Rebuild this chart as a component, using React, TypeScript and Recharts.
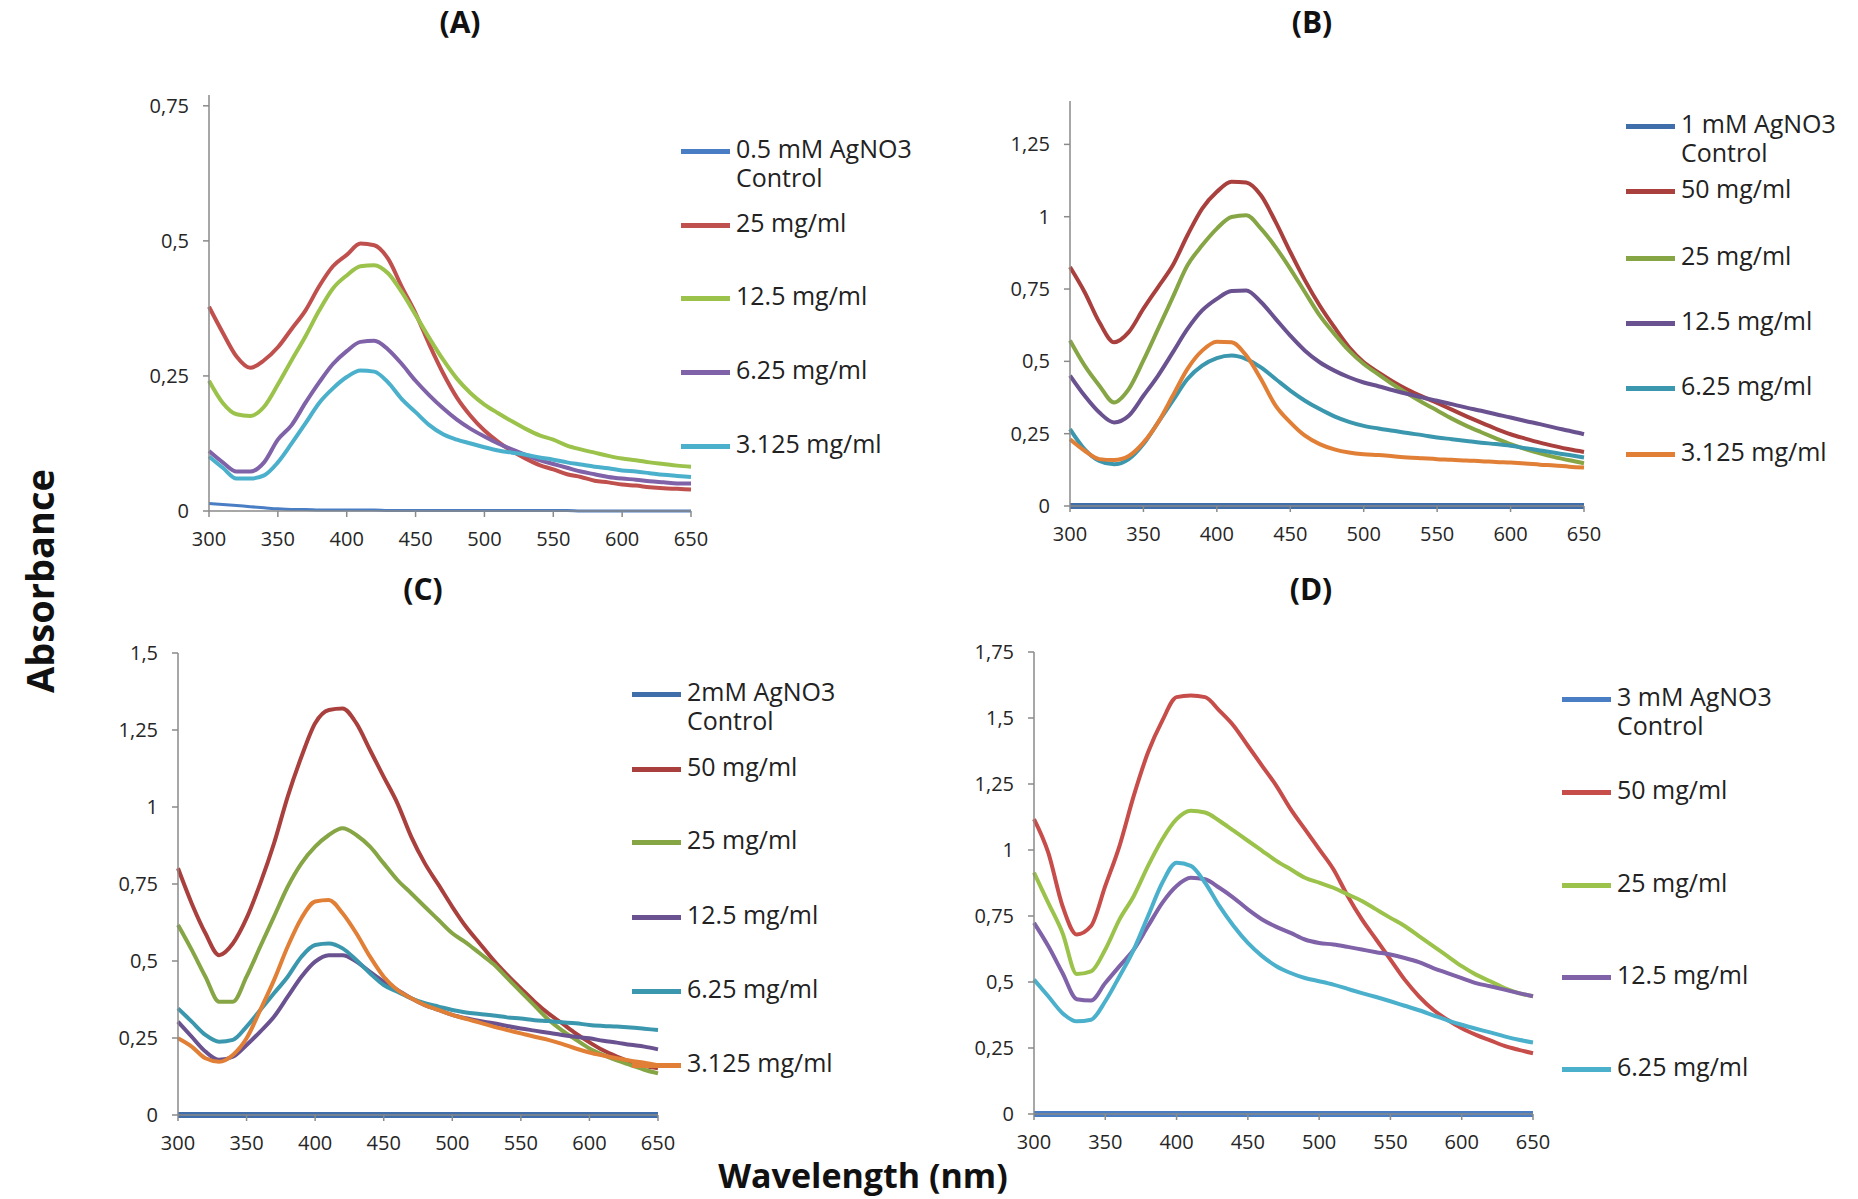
import React from "react";
import { LineChart, Line, XAxis, YAxis } from "recharts";

// wavelength grid (nm), shared by all four panels
const wavelengths = [
    300, 310, 320, 330, 340, 350, 360, 370, 380, 390, 400, 410, 420, 430, 440, 450, 460, 470,
    480, 490, 500, 510, 520, 530, 540, 550, 560, 570, 580, 590, 600, 610, 620, 630, 640, 650,
];
const xTicks = [300, 350, 400, 450, 500, 550, 600, 650];

// (A) 0.5 mM AgNO3
const ctrlA = [0.014, 0.012, 0.01, 0.008, 0.006, 0.004, 0.003, 0.003, 0.002, 0.002, 0.002, 0.002, 0.002, 0.001, 0.001, 0.001, 0.001, 0.001, 0.001, 0.001, 0.001, 0.001, 0.001, 0.001, 0.001, 0.001, 0.001, 0, 0, 0, 0, 0, 0, 0, 0, 0];
const a25 = [0.378, 0.33, 0.286, 0.265, 0.279, 0.303, 0.337, 0.371, 0.416, 0.453, 0.474, 0.495, 0.492, 0.467, 0.415, 0.366, 0.308, 0.255, 0.21, 0.176, 0.149, 0.128, 0.111, 0.097, 0.085, 0.077, 0.068, 0.063, 0.056, 0.053, 0.049, 0.047, 0.044, 0.042, 0.041, 0.04];
const a125 = [0.241, 0.2, 0.179, 0.176, 0.193, 0.234, 0.279, 0.323, 0.371, 0.412, 0.436, 0.453, 0.455, 0.44, 0.405, 0.363, 0.32, 0.28, 0.245, 0.218, 0.197, 0.181, 0.166, 0.152, 0.14, 0.132, 0.121, 0.114, 0.108, 0.102, 0.097, 0.094, 0.09, 0.087, 0.084, 0.082];
const a625 = [0.111, 0.09, 0.073, 0.073, 0.09, 0.132, 0.159, 0.2, 0.238, 0.272, 0.296, 0.313, 0.315, 0.299, 0.272, 0.241, 0.214, 0.19, 0.169, 0.152, 0.138, 0.125, 0.114, 0.104, 0.094, 0.087, 0.08, 0.073, 0.068, 0.063, 0.06, 0.058, 0.055, 0.053, 0.051, 0.051];
const a3125 = [0.101, 0.08, 0.06, 0.06, 0.066, 0.09, 0.125, 0.162, 0.2, 0.227, 0.248, 0.26, 0.258, 0.238, 0.207, 0.183, 0.159, 0.142, 0.132, 0.125, 0.118, 0.112, 0.108, 0.104, 0.099, 0.095, 0.09, 0.086, 0.082, 0.079, 0.075, 0.073, 0.07, 0.067, 0.065, 0.063];

// (B) 1 mM AgNO3
const ctrlB = [0, 0, 0, 0, 0, 0, 0, 0, 0, 0, 0, 0, 0, 0, 0, 0, 0, 0, 0, 0, 0, 0, 0, 0, 0, 0, 0, 0, 0, 0, 0, 0, 0, 0, 0, 0];
const b50 = [0.826, 0.739, 0.635, 0.566, 0.601, 0.682, 0.757, 0.832, 0.936, 1.028, 1.086, 1.121, 1.118, 1.074, 0.982, 0.878, 0.78, 0.693, 0.618, 0.549, 0.497, 0.462, 0.43, 0.402, 0.378, 0.356, 0.333, 0.31, 0.288, 0.267, 0.248, 0.233, 0.219, 0.207, 0.196, 0.187];
const b25 = [0.572, 0.485, 0.416, 0.358, 0.404, 0.503, 0.612, 0.722, 0.832, 0.901, 0.959, 0.999, 1.005, 0.959, 0.895, 0.82, 0.739, 0.659, 0.595, 0.537, 0.491, 0.455, 0.42, 0.388, 0.358, 0.33, 0.302, 0.277, 0.255, 0.234, 0.214, 0.197, 0.182, 0.169, 0.158, 0.148];
const b125 = [0.451, 0.381, 0.323, 0.289, 0.312, 0.381, 0.451, 0.531, 0.612, 0.676, 0.716, 0.743, 0.745, 0.705, 0.647, 0.589, 0.537, 0.497, 0.468, 0.445, 0.427, 0.414, 0.4, 0.387, 0.375, 0.364, 0.352, 0.34, 0.329, 0.317, 0.306, 0.294, 0.283, 0.271, 0.26, 0.248];
const b625 = [0.266, 0.196, 0.156, 0.144, 0.162, 0.214, 0.289, 0.364, 0.439, 0.485, 0.511, 0.52, 0.508, 0.479, 0.439, 0.399, 0.364, 0.335, 0.31, 0.291, 0.277, 0.268, 0.26, 0.252, 0.245, 0.237, 0.231, 0.225, 0.219, 0.214, 0.208, 0.2, 0.192, 0.184, 0.176, 0.168];
const b3125 = [0.231, 0.191, 0.162, 0.159, 0.173, 0.219, 0.289, 0.381, 0.474, 0.537, 0.568, 0.566, 0.52, 0.439, 0.347, 0.289, 0.243, 0.214, 0.196, 0.185, 0.179, 0.176, 0.172, 0.168, 0.165, 0.162, 0.16, 0.157, 0.155, 0.152, 0.15, 0.147, 0.143, 0.14, 0.136, 0.133];

// (C) 2 mM AgNO3
const ctrlC = [0, 0, 0, 0, 0, 0, 0, 0, 0, 0, 0, 0, 0, 0, 0, 0, 0, 0, 0, 0, 0, 0, 0, 0, 0, 0, 0, 0, 0, 0, 0, 0, 0, 0, 0, 0];
const c50 = [0.801, 0.687, 0.59, 0.519, 0.557, 0.639, 0.752, 0.882, 1.034, 1.163, 1.272, 1.315, 1.32, 1.272, 1.185, 1.098, 1.012, 0.904, 0.817, 0.747, 0.676, 0.611, 0.557, 0.503, 0.455, 0.411, 0.368, 0.33, 0.298, 0.265, 0.236, 0.21, 0.19, 0.173, 0.16, 0.152];
const c25 = [0.617, 0.536, 0.449, 0.368, 0.368, 0.449, 0.547, 0.644, 0.741, 0.817, 0.871, 0.909, 0.931, 0.909, 0.871, 0.817, 0.763, 0.72, 0.676, 0.633, 0.59, 0.56, 0.525, 0.49, 0.445, 0.4, 0.355, 0.31, 0.275, 0.245, 0.216, 0.195, 0.177, 0.162, 0.147, 0.135];
const c125 = [0.303, 0.254, 0.206, 0.179, 0.189, 0.227, 0.271, 0.319, 0.384, 0.449, 0.498, 0.519, 0.519, 0.498, 0.465, 0.433, 0.406, 0.379, 0.357, 0.341, 0.325, 0.314, 0.305, 0.298, 0.289, 0.281, 0.274, 0.267, 0.26, 0.254, 0.249, 0.241, 0.235, 0.228, 0.222, 0.213];
const c625 = [0.346, 0.303, 0.26, 0.238, 0.244, 0.287, 0.341, 0.395, 0.449, 0.514, 0.552, 0.557, 0.541, 0.503, 0.46, 0.422, 0.4, 0.379, 0.363, 0.352, 0.341, 0.333, 0.328, 0.323, 0.317, 0.313, 0.308, 0.305, 0.301, 0.298, 0.292, 0.289, 0.287, 0.284, 0.28, 0.276];
const c3125 = [0.249, 0.222, 0.184, 0.173, 0.195, 0.249, 0.341, 0.438, 0.547, 0.639, 0.693, 0.698, 0.655, 0.59, 0.514, 0.449, 0.406, 0.379, 0.357, 0.341, 0.325, 0.312, 0.3, 0.287, 0.276, 0.265, 0.254, 0.244, 0.231, 0.216, 0.203, 0.193, 0.184, 0.176, 0.17, 0.162];

// (D) 3 mM AgNO3
const ctrlD = [0, 0, 0, 0, 0, 0, 0, 0, 0, 0, 0, 0, 0, 0, 0, 0, 0, 0, 0, 0, 0, 0, 0, 0, 0, 0, 0, 0, 0, 0, 0, 0, 0, 0, 0, 0];
const d50 = [1.117, 0.99, 0.788, 0.68, 0.712, 0.864, 1.016, 1.206, 1.37, 1.49, 1.579, 1.585, 1.579, 1.528, 1.471, 1.395, 1.319, 1.243, 1.155, 1.079, 1.003, 0.927, 0.826, 0.737, 0.661, 0.585, 0.509, 0.446, 0.395, 0.357, 0.325, 0.3, 0.279, 0.258, 0.243, 0.23];
const d25 = [0.914, 0.8, 0.686, 0.53, 0.54, 0.623, 0.737, 0.826, 0.94, 1.041, 1.117, 1.149, 1.142, 1.111, 1.073, 1.035, 0.997, 0.959, 0.927, 0.895, 0.876, 0.857, 0.832, 0.807, 0.775, 0.743, 0.712, 0.674, 0.636, 0.598, 0.56, 0.528, 0.503, 0.477, 0.458, 0.446];
const d125 = [0.724, 0.636, 0.534, 0.435, 0.43, 0.496, 0.56, 0.623, 0.712, 0.8, 0.864, 0.895, 0.889, 0.857, 0.819, 0.775, 0.737, 0.709, 0.686, 0.661, 0.648, 0.642, 0.633, 0.623, 0.613, 0.604, 0.591, 0.575, 0.553, 0.534, 0.515, 0.496, 0.484, 0.471, 0.458, 0.446];
const d625 = [0.509, 0.446, 0.382, 0.351, 0.357, 0.427, 0.522, 0.623, 0.75, 0.876, 0.952, 0.94, 0.876, 0.788, 0.712, 0.648, 0.598, 0.56, 0.534, 0.515, 0.503, 0.49, 0.474, 0.458, 0.443, 0.427, 0.41, 0.393, 0.374, 0.355, 0.338, 0.323, 0.309, 0.294, 0.281, 0.271];

const FONT = "'Open Sans', 'DejaVu Sans', sans-serif";
const AXIS = "#8a8a8a";

type Series = { name: string[]; values: number[]; color: string; width: number; legendY: number };
type Panel = {
    title: string;
    titleX: number;
    titleY: number;
    left: number;
    right: number;
    top: number;
    bottom: number;
    yMax: number;
    yTicks: number[];
    legendX: number;
    series: Series[];
};

const panels: Panel[] = [
    {
        title: "(A)", titleX: 460, titleY: 22,
        left: 209, right: 691, top: 95, bottom: 511,
        yMax: 0.77, yTicks: [0, 0.25, 0.5, 0.75], legendX: 681,
        series: [
            { name: ["0.5 mM AgNO3", "Control"], values: ctrlA, color: "#4a7ec4", width: 3, legendY: 151 },
            { name: ["25 mg/ml"], values: a25, color: "#c0504d", width: 4, legendY: 225 },
            { name: ["12.5 mg/ml"], values: a125, color: "#9bc24a", width: 4, legendY: 298 },
            { name: ["6.25 mg/ml"], values: a625, color: "#7f62a8", width: 4, legendY: 372 },
            { name: ["3.125 mg/ml"], values: a3125, color: "#4bb0cc", width: 4, legendY: 446 },
        ],
    },
    {
        title: "(B)", titleX: 1312, titleY: 22,
        left: 1070, right: 1584, top: 101, bottom: 506,
        yMax: 1.4, yTicks: [0, 0.25, 0.5, 0.75, 1, 1.25], legendX: 1626,
        series: [
            { name: ["1 mM AgNO3", "Control"], values: ctrlB, color: "#3f6eaa", width: 6, legendY: 126 },
            { name: ["50 mg/ml"], values: b50, color: "#a9403d", width: 4, legendY: 191 },
            { name: ["25 mg/ml"], values: b25, color: "#86a544", width: 4, legendY: 258 },
            { name: ["12.5 mg/ml"], values: b125, color: "#6a5190", width: 4, legendY: 323 },
            { name: ["6.25 mg/ml"], values: b625, color: "#3a97ae", width: 4, legendY: 388 },
            { name: ["3.125 mg/ml"], values: b3125, color: "#e07f35", width: 4, legendY: 454 },
        ],
    },
    {
        title: "(C)", titleX: 423, titleY: 589,
        left: 178, right: 658, top: 653, bottom: 1115,
        yMax: 1.5, yTicks: [0, 0.25, 0.5, 0.75, 1, 1.25, 1.5], legendX: 632,
        series: [
            { name: ["2mM AgNO3", "Control"], values: ctrlC, color: "#3f6eaa", width: 6, legendY: 694 },
            { name: ["50 mg/ml"], values: c50, color: "#a9403d", width: 4, legendY: 769 },
            { name: ["25 mg/ml"], values: c25, color: "#86a544", width: 4, legendY: 842 },
            { name: ["12.5 mg/ml"], values: c125, color: "#6a5190", width: 4, legendY: 917 },
            { name: ["6.25 mg/ml"], values: c625, color: "#3a97ae", width: 4, legendY: 991 },
            { name: ["3.125 mg/ml"], values: c3125, color: "#e07f35", width: 4, legendY: 1065 },
        ],
    },
    {
        title: "(D)", titleX: 1311, titleY: 589,
        left: 1034, right: 1533, top: 652, bottom: 1114,
        yMax: 1.75, yTicks: [0, 0.25, 0.5, 0.75, 1, 1.25, 1.5, 1.75], legendX: 1562,
        series: [
            { name: ["3 mM AgNO3", "Control"], values: ctrlD, color: "#4a7ec4", width: 6, legendY: 699 },
            { name: ["50 mg/ml"], values: d50, color: "#c74d4a", width: 4, legendY: 792 },
            { name: ["25 mg/ml"], values: d25, color: "#9bc24a", width: 4, legendY: 885 },
            { name: ["12.5 mg/ml"], values: d125, color: "#7f62a8", width: 4, legendY: 977 },
            { name: ["6.25 mg/ml"], values: d625, color: "#4bb0cc", width: 4, legendY: 1069 },
        ],
    },
];

const Y_W = 80;
const X_H = 50;
const PAD = 20;
const PAD_R = 30;

function SpectrumPanel({ p }: { p: Panel }) {
    const rows = wavelengths.map((nm, i) => {
        const r: Record<string, number> = { nm };
        p.series.forEach((s, k) => (r["s" + k] = s.values[i]));
        return r;
    });
    const w = p.right - p.left + Y_W + PAD_R;
    const h = p.bottom - p.top + PAD + X_H;
    const tick = { fill: "#262626", fontSize: 20, fontFamily: FONT };

    return (
        <>
            <div style={{ position: "absolute", left: p.titleX - 60, top: p.titleY - 22, width: 120, textAlign: "center", fontFamily: FONT, fontWeight: 700, fontSize: 30, lineHeight: "44px", color: "#111" }}>
                {p.title}
            </div>
            <div style={{ position: "absolute", left: p.left - Y_W, top: p.top - PAD }}>
                <LineChart width={w} height={h} data={rows} margin={{ top: PAD, right: PAD_R, left: 0, bottom: 0 }}>
                    <XAxis
                        dataKey="nm" type="number" domain={[300, 650]} ticks={xTicks} height={X_H}
                        tick={tick} tickSize={6} tickMargin={15}
                        axisLine={{ stroke: AXIS, strokeWidth: 1.5 }} tickLine={{ stroke: AXIS, strokeWidth: 1.5 }}
                    />
                    <YAxis
                        type="number" domain={[0, p.yMax]} ticks={p.yTicks} width={Y_W}
                        tick={tick} tickSize={6} tickMargin={14}
                        tickFormatter={(v: number) => String(v).replace(".", ",")}
                        axisLine={{ stroke: AXIS, strokeWidth: 1.5 }} tickLine={{ stroke: AXIS, strokeWidth: 1.5 }}
                    />
                    {p.series.map((s, k) => (
                        <Line
                            key={k} type="monotone" dataKey={"s" + k} stroke={s.color} strokeWidth={s.width}
                            dot={false} isAnimationActive={false}
                        />
                    ))}
                </LineChart>
            </div>
            {p.series.map((s, k) => (
                <React.Fragment key={k}>
                    <div style={{ position: "absolute", left: p.legendX, top: s.legendY - 2, width: 49, height: 5, background: s.color }} />
                    <div style={{ position: "absolute", left: p.legendX + 55, top: s.legendY - 17, fontFamily: FONT, fontSize: 25, lineHeight: "29px", color: "#222", whiteSpace: "nowrap" }}>
                        {s.name.map((t, j) => (
                            <div key={j}>{t}</div>
                        ))}
                    </div>
                </React.Fragment>
            ))}
        </>
    );
}

export default function App() {
    return (
        <div style={{ position: "absolute", left: 0, top: 0, width: 1858, height: 1199, background: "#fff", overflow: "hidden" }}>
            {panels.map((p, i) => (
                <SpectrumPanel key={i} p={p} />
            ))}
            <div style={{ position: "absolute", left: 39 - 150, top: 581 - 22, width: 300, height: 44, textAlign: "center", transform: "rotate(-90deg)", fontFamily: FONT, fontWeight: 700, fontSize: 38, lineHeight: "44px", color: "#111" }}>
                Absorbance
            </div>
            <div style={{ position: "absolute", left: 863 - 200, top: 1175 - 20, width: 400, textAlign: "center", fontFamily: FONT, fontWeight: 700, fontSize: 34, lineHeight: "40px", color: "#111" }}>
                Wavelength (nm)
            </div>
        </div>
    );
}
